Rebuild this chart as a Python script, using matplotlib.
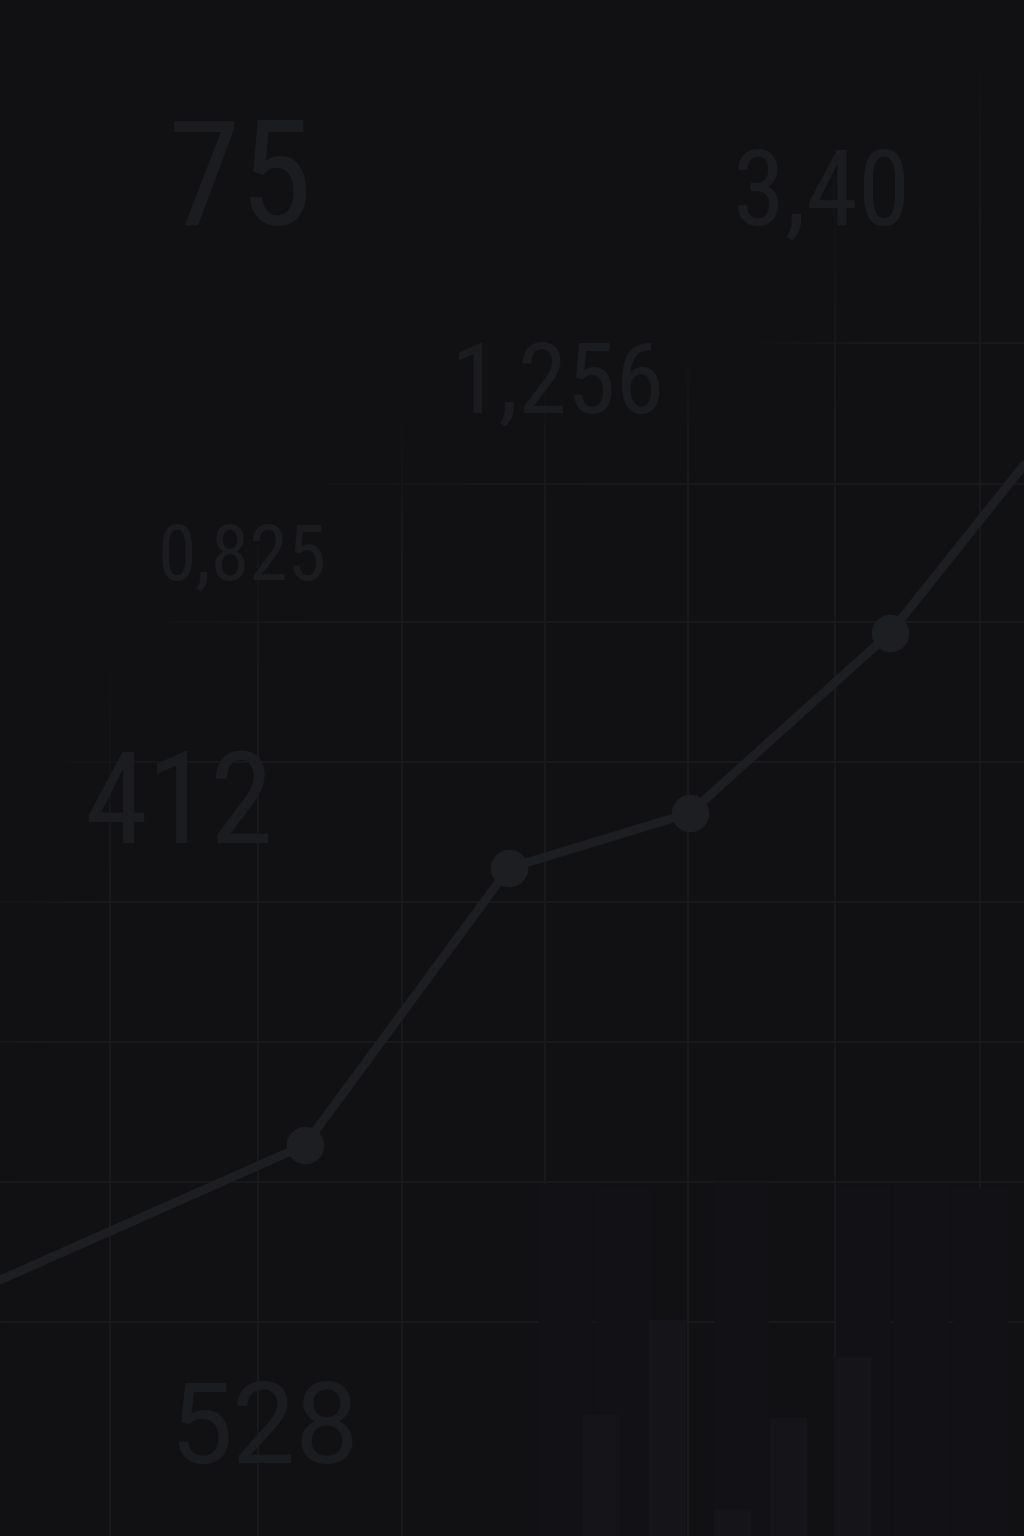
import numpy as np
import matplotlib
matplotlib.use("Agg")
import matplotlib.pyplot as plt

W, H = 1024, 1536
BG = "#111114"

# line series (x, value measured up from the bottom)
line_x = [0, 305, 509, 690, 890, 1024]
line_y = [256, 391, 668, 723, 903, 1071]
marker_x = line_x[1:5]
marker_y = line_y[1:5]

# faint bars at the bottom
back_bar_x = [565, 622, 741, 863, 921, 980]
back_bar_h = [352, 350, 354, 350, 352, 348]
front_bar_x = [601, 667, 732, 788, 852]
front_bar_h = [121, 216, 26, 118, 179]

# grid positions
grid_x = [110, 258, 402, 545, 688, 835, 980]
grid_y = [1193, 1052, 914, 774, 634, 494, 354, 214]

# big ghost numbers
labels = ["75", "3,40", "1,256", "0,825", "412", "528"]
label_x = [168, 733, 450, 158, 84, 170]
label_base = [1311, 1311, 1124, 956, 693, 73]
label_size = [106, 76, 71, 56, 92, 81]
label_narrow = [True, True, True, True, True, False]

fig = plt.figure(figsize=(W / 100, H / 100), dpi=100, facecolor=BG)
ax = fig.add_axes([0, 0, 1, 1])
ax.set_facecolor(BG)
ax.set_xlim(0, W)
ax.set_ylim(0, H)
ax.axis("off")

for gx in grid_x:
    ax.axvline(gx, color="#1b1b1f", lw=1.2, zorder=1)
for gy in grid_y:
    ax.axhline(gy, color="#1b1b1f", lw=1.2, zorder=1)

# soft fade over the grid: main ellipse plus a strip up the right edge
xx, yy = np.meshgrid(np.arange(W) + 0.5, np.arange(H) + 0.5)
d1 = np.sqrt(((xx - 700) / 750.0) ** 2 + ((yy - 236) / 900.0) ** 2)
d2 = np.sqrt(((xx - 1024) / 300.0) ** 2 + ((yy - 836) / 600.0) ** 2)
alpha = np.minimum(np.clip((d1 - 0.92) / 0.15, 0, 1), np.clip((d2 - 0.8) / 0.3, 0, 1))
mask = np.zeros((H, W, 4))
mask[..., :3] = matplotlib.colors.to_rgb(BG)
mask[..., 3] = alpha
ax.imshow(mask, extent=(0, W, 0, H), origin="lower", zorder=2, aspect="auto")

ax.bar(back_bar_x, back_bar_h, width=55, color="#121216", zorder=3)
ax.bar(front_bar_x, front_bar_h, width=37, color="#151519", zorder=3)

ax.plot(line_x, line_y, color="#1d1e21", lw=6.3, solid_capstyle="round", zorder=4)
ax.plot(marker_x, marker_y, "o", color="#1d1e21", ms=26, zorder=4)

for t, x, b, s, n in zip(labels, label_x, label_base, label_size, label_narrow):
    fam = ["Roboto Condensed", "Barlow Condensed", "DejaVu Sans"] if n else ["Roboto", "DejaVu Sans"]
    ax.text(x, b, t, fontsize=s, family=fam, color="#1b1c1f",
            ha="left", va="baseline", zorder=5)

fig.savefig("out.png", dpi=100, facecolor=BG)
